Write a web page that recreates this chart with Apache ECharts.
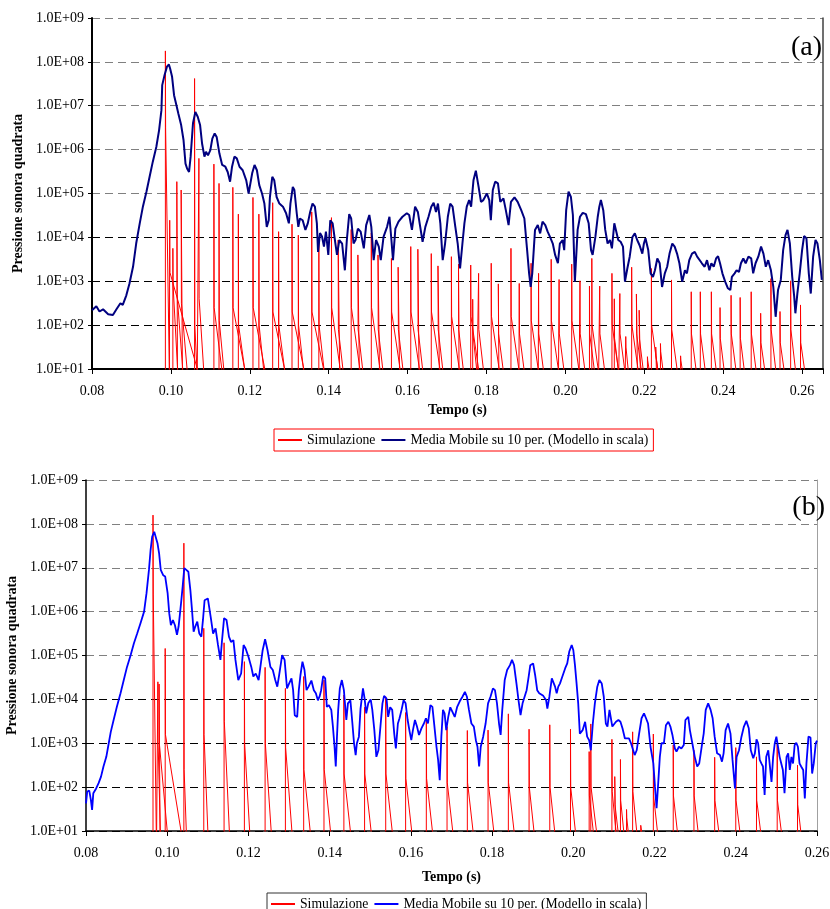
<!DOCTYPE html>
<html>
<head>
<meta charset="utf-8">
<script src="https://cdn.jsdelivr.net/npm/echarts@6/dist/echarts.min.js"></script>
<style>
html, body { margin: 0; padding: 0; background: #fff; }
#chart { width: 830px; height: 909px; }
</style>
</head>
<body>
<div id="chart"></div>
<script>
var nameRed = 'Simulazione';
var nameBlue = 'Media Mobile su 10 per. (Modello in scala)';
var panelLabels = ['(a)', '(b)'];

// moving average, [time s, log10 of squared pressure]
var blueTop = [
  [0.0800,2.34],[0.0811,2.43],[0.0819,2.31],[0.0828,2.36],[0.0841,2.25],[0.0853,2.23],[0.0862,2.36],[0.0872,2.50],
  [0.0878,2.46],[0.0887,2.68],[0.0895,2.95],[0.0904,3.33],[0.0912,3.86],[0.0921,4.32],[0.0929,4.70],[0.0938,5.04],
  [0.0946,5.38],[0.0954,5.72],[0.0963,6.06],[0.0970,6.44],[0.0976,6.90],[0.0978,7.47],[0.0984,7.70],[0.0990,7.89],
  [0.0995,7.94],[0.0998,7.85],[0.1003,7.66],[0.1008,7.24],[0.1014,7.01],[0.1019,6.82],[0.1026,6.56],[0.1032,6.22],
  [0.1037,5.68],[0.1041,5.57],[0.1046,5.49],[0.1050,5.84],[0.1056,6.60],[0.1062,6.86],[0.1068,6.75],[0.1074,6.56],
  [0.1079,6.14],[0.1085,5.84],[0.1089,5.95],[0.1094,5.87],[0.1100,5.99],[0.1105,6.25],[0.1111,6.37],[0.1116,6.29],
  [0.1123,5.91],[0.1130,5.65],[0.1138,5.61],[0.1144,5.49],[0.1150,5.27],[0.1155,5.61],[0.1161,5.84],[0.1167,5.80],
  [0.1174,5.61],[0.1182,5.53],[0.1191,5.30],[0.1197,5.00],[0.1201,5.04],[0.1206,5.46],[0.1212,5.65],[0.1218,5.53],
  [0.1224,5.19],[0.1231,5.00],[0.1237,4.77],[0.1243,4.24],[0.1248,4.39],[0.1251,4.92],[0.1257,5.38],[0.1262,5.30],
  [0.1268,4.92],[0.1275,4.77],[0.1284,4.70],[0.1292,4.55],[0.1299,4.32],[0.1303,4.77],[0.1309,5.15],[0.1313,5.08],
  [0.1319,4.55],[0.1323,4.24],[0.1327,4.43],[0.1334,4.39],[0.1341,4.17],[0.1347,4.32],[0.1353,4.58],[0.1359,4.77],
  [0.1365,4.70],[0.1370,4.32],[0.1373,3.67],[0.1378,4.10],[0.1383,4.02],[0.1388,3.79],[0.1393,4.13],[0.1399,3.60],
  [0.1404,4.39],[0.1410,4.32],[0.1417,3.86],[0.1421,3.60],[0.1427,3.94],[0.1434,3.86],[0.1441,3.25],[0.1446,3.94],
  [0.1452,4.53],[0.1457,4.43],[0.1463,3.86],[0.1468,3.94],[0.1474,4.20],[0.1481,4.13],[0.1489,3.75],[0.1495,4.28],
  [0.1503,4.51],[0.1508,4.24],[0.1514,3.48],[0.1520,3.94],[0.1527,3.79],[0.1532,3.48],[0.1539,4.01],[0.1548,4.24],
  [0.1554,4.47],[0.1559,3.94],[0.1563,3.48],[0.1569,4.20],[0.1577,4.36],[0.1587,4.47],[0.1598,4.55],[0.1604,4.51],
  [0.1611,4.17],[0.1619,4.70],[0.1626,4.58],[0.1632,4.24],[0.1638,3.90],[0.1645,4.24],[0.1653,4.47],[0.1660,4.70],
  [0.1666,4.79],[0.1672,4.58],[0.1677,4.77],[0.1683,4.32],[0.1689,3.48],[0.1695,3.86],[0.1702,4.47],[0.1708,4.77],
  [0.1714,4.70],[0.1721,4.24],[0.1727,3.86],[0.1733,3.29],[0.1739,3.86],[0.1744,4.32],[0.1750,4.70],[0.1756,4.85],
  [0.1761,4.70],[0.1767,5.30],[0.1773,5.52],[0.1780,5.15],[0.1786,4.81],[0.1792,4.85],[0.1801,5.00],[0.1807,4.85],
  [0.1811,4.39],[0.1816,5.08],[0.1822,5.27],[0.1829,5.23],[0.1835,4.81],[0.1843,4.89],[0.1849,4.62],[0.1856,4.28],
  [0.1862,4.81],[0.1871,4.91],[0.1879,4.81],[0.1888,4.62],[0.1896,4.43],[0.1903,3.71],[0.1908,3.18],[0.1912,2.87],
  [0.1916,3.18],[0.1923,4.17],[0.1930,4.28],[0.1936,4.09],[0.1942,4.36],[0.1949,4.28],[0.1955,4.13],[0.1961,4.01],
  [0.1968,3.86],[0.1974,3.60],[0.1981,3.41],[0.1986,3.86],[0.1993,3.94],[0.1997,3.71],[0.2002,4.62],[0.2008,5.04],
  [0.2014,4.92],[0.2019,4.51],[0.2024,2.99],[0.2031,4.17],[0.2037,4.47],[0.2044,4.56],[0.2052,4.53],[0.2059,4.32],
  [0.2065,3.71],[0.2069,3.60],[0.2076,4.01],[0.2082,4.47],[0.2086,4.70],[0.2090,4.85],[0.2096,4.62],[0.2101,4.17],
  [0.2107,3.86],[0.2113,3.94],[0.2118,3.75],[0.2124,4.32],[0.2129,4.36],[0.2134,3.94],[0.2140,3.90],[0.2146,3.79],
  [0.2151,2.99],[0.2157,3.29],[0.2163,3.56],[0.2170,4.01],[0.2176,4.09],[0.2182,3.94],[0.2188,3.82],[0.2195,3.63],
  [0.2199,3.86],[0.2203,3.98],[0.2210,3.71],[0.2216,3.18],[0.2222,3.10],[0.2227,3.25],[0.2233,3.52],[0.2239,3.41],
  [0.2245,2.87],[0.2252,3.18],[0.2258,3.33],[0.2264,3.63],[0.2271,3.86],[0.2277,3.79],[0.2283,3.63],[0.2289,3.41],
  [0.2296,2.99],[0.2303,3.25],[0.2308,3.18],[0.2314,3.48],[0.2321,3.63],[0.2328,3.67],[0.2334,3.56],[0.2339,3.60],
  [0.2346,3.41],[0.2353,3.33],[0.2359,3.48],[0.2365,3.25],[0.2370,3.41],[0.2376,3.33],[0.2382,3.52],[0.2387,3.57],
  [0.2392,3.41],[0.2398,3.18],[0.2405,2.99],[0.2412,2.84],[0.2418,2.80],[0.2422,3.10],[0.2429,3.18],[0.2434,3.25],
  [0.2440,3.21],[0.2445,3.41],[0.2451,3.52],[0.2457,3.41],[0.2464,3.56],[0.2471,3.52],[0.2476,3.18],[0.2482,3.41],
  [0.2489,3.56],[0.2496,3.79],[0.2502,3.63],[0.2508,3.33],[0.2514,3.48],[0.2521,3.25],[0.2527,2.87],[0.2533,2.19],
  [0.2539,2.80],[0.2546,3.03],[0.2552,3.71],[0.2558,4.05],[0.2563,4.17],[0.2569,3.86],[0.2575,3.10],[0.2580,2.65],
  [0.2583,2.27],[0.2588,2.72],[0.2594,3.18],[0.2600,3.71],[0.2605,4.03],[0.2611,3.98],[0.2617,3.18],[0.2622,2.72],
  [0.2628,3.56],[0.2634,3.94],[0.2639,3.86],[0.2645,3.48],[0.2650,3.03]
];

// simulation pulses: [start s, peak exp, exp just after peak, decay length s]
var redTop = [
  [0.0986,8.25,6.5,0.0010],[0.0997,4.39,3.2,0.0070],[0.1005,3.75,2.9,0.0012],[0.1015,5.27,2.7,0.0015],
  [0.1026,5.08,2.5,0.0015],[0.1060,7.62,2.0,0.0006],[0.1071,5.80,2.6,0.0012],[0.1109,5.67,2.4,0.0020],
  [0.1122,5.23,2.1,0.0012],[0.1157,5.14,2.4,0.0030],[0.1171,4.53,2.0,0.0016],[0.1208,4.91,2.4,0.0030],
  [0.1223,4.53,2.0,0.0012],[0.1258,4.79,2.3,0.0030],[0.1273,4.13,2.0,0.0015],[0.1307,4.30,2.3,0.0030],
  [0.1323,4.05,2.0,0.0013],[0.1357,4.58,2.3,0.0030],[0.1375,3.94,2.0,0.0013],[0.1407,4.45,2.4,0.0022],
  [0.1424,3.94,1.9,0.0012],[0.1457,4.18,2.4,0.0022],[0.1474,3.60,1.9,0.0012],[0.1508,4.10,2.4,0.0022],
  [0.1525,3.60,1.9,0.0012],[0.1559,3.52,2.3,0.0022],[0.1576,3.32,1.9,0.0012],[0.1608,3.79,2.3,0.0022],
  [0.1626,3.73,1.9,0.0012],[0.1660,3.63,2.3,0.0022],[0.1677,3.35,1.9,0.0012],[0.1711,3.56,2.2,0.0020],
  [0.1729,3.39,1.9,0.0012],[0.1760,3.37,2.2,0.0020],[0.1765,2.59,1.8,0.0010],[0.1780,3.18,1.9,0.0012],
  [0.1812,3.41,2.2,0.0020],[0.1830,2.94,1.8,0.0012],[0.1862,3.75,2.2,0.0020],[0.1883,2.95,1.8,0.0012],
  [0.1913,3.41,2.1,0.0018],[0.1932,3.18,1.8,0.0012],[0.1964,3.50,2.1,0.0018],[0.1984,3.04,1.8,0.0012],
  [0.2016,3.39,2.1,0.0018],[0.2037,3.01,1.8,0.0012],[0.2061,2.89,1.8,0.0012],[0.2067,3.52,2.0,0.0016],
  [0.2087,2.89,1.8,0.0012],[0.2118,3.18,2.0,0.0016],[0.2124,2.60,1.7,0.0010],[0.2138,2.72,1.8,0.0012],
  [0.2153,1.74,1.5,0.0006],[0.2168,3.32,2.0,0.0016],[0.2180,2.71,1.8,0.0012],[0.2187,2.34,1.7,0.0010],
  [0.2208,1.28,1.2,0.0004],[0.2218,3.29,2.0,0.0016],[0.2229,1.50,1.3,0.0005],[0.2241,1.58,1.4,0.0006],
  [0.2269,3.03,1.9,0.0014],[0.2292,1.30,1.2,0.0004],[0.2319,2.76,1.8,0.0012],[0.2342,2.76,1.8,0.0012],
  [0.2370,2.76,1.8,0.0012],[0.2392,2.40,1.7,0.0010],[0.2420,2.68,1.8,0.0012],[0.2443,2.63,1.7,0.0010],
  [0.2471,2.76,1.8,0.0012],[0.2495,2.27,1.6,0.0010],[0.2521,3.06,1.9,0.0012],[0.2544,2.31,1.6,0.0010],
  [0.2571,3.01,1.9,0.0012],[0.2596,2.46,1.6,0.0010]
];

var blueBottom = [
  [0.0800,1.63],[0.0803,1.90],[0.0808,1.92],[0.0812,1.71],[0.0815,1.48],[0.0818,1.86],[0.0825,1.97],[0.0831,2.09],
  [0.0837,2.24],[0.0843,2.47],[0.0850,2.69],[0.0856,3.00],[0.0861,3.26],[0.0868,3.53],[0.0876,3.83],[0.0885,4.14],
  [0.0893,4.44],[0.0901,4.74],[0.0910,5.01],[0.0918,5.28],[0.0926,5.50],[0.0934,5.73],[0.0943,6.00],[0.0949,6.42],
  [0.0955,6.95],[0.0959,7.40],[0.0963,7.71],[0.0968,7.82],[0.0972,7.82],[0.0976,7.56],[0.0980,7.33],[0.0984,6.95],
  [0.0990,6.83],[0.0995,6.80],[0.1001,6.42],[0.1005,5.96],[0.1009,5.69],[0.1014,5.81],[0.1019,5.69],[0.1024,5.47],
  [0.1028,5.66],[0.1034,6.19],[0.1038,6.57],[0.1042,6.99],[0.1047,6.95],[0.1052,6.91],[0.1057,6.49],[0.1061,6.04],
  [0.1065,5.54],[0.1069,5.66],[0.1074,5.77],[0.1079,5.50],[0.1084,5.43],[0.1088,5.81],[0.1092,6.26],[0.1100,6.30],
  [0.1107,5.88],[0.1113,5.50],[0.1119,5.62],[0.1125,5.24],[0.1131,4.90],[0.1135,5.35],[0.1140,5.85],[0.1146,5.81],
  [0.1152,5.43],[0.1157,5.31],[0.1163,5.35],[0.1168,4.90],[0.1175,4.44],[0.1182,4.59],[0.1188,5.24],[0.1193,5.16],
  [0.1200,4.97],[0.1207,4.74],[0.1212,4.52],[0.1218,4.59],[0.1225,4.44],[0.1229,4.40],[0.1235,5.12],[0.1241,5.37],
  [0.1247,5.12],[0.1254,4.74],[0.1260,4.67],[0.1266,4.44],[0.1271,4.29],[0.1275,4.52],[0.1283,5.01],[0.1289,4.90],
  [0.1295,4.25],[0.1300,4.36],[0.1306,4.48],[0.1310,4.21],[0.1314,3.64],[0.1320,3.60],[0.1324,4.21],[0.1328,4.55],
  [0.1333,4.86],[0.1338,4.67],[0.1343,4.21],[0.1348,4.29],[0.1355,4.43],[0.1361,4.21],[0.1366,4.14],[0.1371,3.98],
  [0.1375,4.06],[0.1379,4.21],[0.1384,4.53],[0.1389,4.48],[0.1393,3.83],[0.1398,3.87],[0.1404,3.76],[0.1408,3.38],
  [0.1412,2.92],[0.1415,2.47],[0.1418,3.15],[0.1421,3.76],[0.1425,4.25],[0.1430,4.44],[0.1435,4.21],[0.1441,3.53],
  [0.1445,3.91],[0.1451,3.98],[0.1456,3.45],[0.1460,3.00],[0.1464,2.73],[0.1467,3.00],[0.1472,3.15],[0.1476,3.79],
  [0.1482,4.25],[0.1486,4.02],[0.1490,3.68],[0.1495,3.91],[0.1501,4.00],[0.1505,3.76],[0.1510,3.30],[0.1515,2.69],
  [0.1520,2.84],[0.1525,3.38],[0.1530,3.91],[0.1534,4.08],[0.1540,4.02],[0.1544,3.60],[0.1549,3.82],[0.1554,3.76],
  [0.1559,3.22],[0.1563,2.88],[0.1568,3.45],[0.1572,3.57],[0.1577,3.76],[0.1582,3.98],[0.1587,3.91],[0.1592,3.53],
  [0.1597,3.26],[0.1601,3.07],[0.1605,3.30],[0.1610,3.53],[0.1615,3.38],[0.1620,3.19],[0.1626,3.34],[0.1632,3.45],
  [0.1637,3.57],[0.1642,3.45],[0.1648,3.87],[0.1653,3.83],[0.1658,3.38],[0.1663,2.92],[0.1667,2.62],[0.1671,2.16],
  [0.1675,3.15],[0.1679,3.76],[0.1683,3.68],[0.1687,3.30],[0.1692,3.60],[0.1697,3.82],[0.1702,3.72],[0.1708,3.60],
  [0.1714,3.83],[0.1720,3.95],[0.1727,4.06],[0.1733,4.17],[0.1738,4.06],[0.1743,3.76],[0.1749,3.45],[0.1755,3.38],
  [0.1760,3.07],[0.1764,2.92],[0.1768,2.47],[0.1772,2.92],[0.1778,3.15],[0.1784,3.45],[0.1790,3.91],[0.1796,4.06],
  [0.1802,4.25],[0.1807,4.21],[0.1812,3.91],[0.1817,3.45],[0.1821,3.19],[0.1825,3.76],[0.1831,4.44],[0.1837,4.67],
  [0.1844,4.78],[0.1849,4.90],[0.1854,4.78],[0.1860,4.36],[0.1865,3.98],[0.1870,3.64],[0.1875,3.91],[0.1880,4.06],
  [0.1885,4.21],[0.1890,4.52],[0.1894,4.78],[0.1901,4.82],[0.1906,4.55],[0.1911,4.21],[0.1916,4.14],[0.1926,4.08],
  [0.1933,3.98],[0.1936,3.79],[0.1941,4.06],[0.1947,4.48],[0.1951,4.52],[0.1955,4.29],[0.1959,4.14],[0.1963,4.29],
  [0.1967,4.36],[0.1973,4.52],[0.1980,4.71],[0.1985,4.82],[0.1990,5.09],[0.1996,5.24],[0.2000,5.12],[0.2004,4.78],
  [0.2008,4.36],[0.2012,3.91],[0.2016,3.22],[0.2023,3.30],[0.2029,3.49],[0.2034,3.15],[0.2039,3.07],[0.2043,2.84],
  [0.2048,3.45],[0.2053,3.91],[0.2059,4.29],[0.2064,4.44],[0.2070,4.36],[0.2075,4.06],[0.2080,3.45],[0.2084,3.38],
  [0.2089,3.76],[0.2092,3.74],[0.2096,3.38],[0.2100,3.38],[0.2105,3.49],[0.2111,3.53],[0.2116,3.49],[0.2121,3.34],
  [0.2127,3.11],[0.2131,3.07],[0.2137,3.11],[0.2142,3.00],[0.2146,2.88],[0.2151,2.73],[0.2156,2.84],[0.2162,3.22],
  [0.2168,3.57],[0.2174,3.68],[0.2179,3.57],[0.2184,3.45],[0.2190,2.92],[0.2197,2.54],[0.2201,2.01],[0.2205,1.52],
  [0.2209,2.09],[0.2213,2.69],[0.2217,3.00],[0.2223,3.00],[0.2228,3.41],[0.2234,3.49],[0.2239,3.38],[0.2244,3.19],
  [0.2250,2.88],[0.2254,2.81],[0.2260,2.92],[0.2266,2.88],[0.2272,2.96],[0.2276,3.53],[0.2283,3.60],[0.2287,3.30],
  [0.2293,3.00],[0.2299,2.69],[0.2305,2.47],[0.2310,2.54],[0.2316,2.92],[0.2321,3.22],[0.2326,3.76],[0.2332,3.91],
  [0.2338,3.76],[0.2343,3.57],[0.2348,3.15],[0.2354,2.77],[0.2361,2.73],[0.2366,2.58],[0.2370,2.77],[0.2375,3.30],
  [0.2381,3.45],[0.2387,3.22],[0.2392,2.62],[0.2398,1.97],[0.2402,2.69],[0.2408,2.84],[0.2414,3.15],[0.2420,3.38],
  [0.2426,3.51],[0.2432,3.34],[0.2437,2.84],[0.2443,2.66],[0.2447,2.77],[0.2451,3.09],[0.2455,3.00],[0.2459,2.62],
  [0.2463,2.54],[0.2467,2.47],[0.2471,1.82],[0.2475,2.69],[0.2480,2.84],[0.2484,2.81],[0.2488,2.12],[0.2492,2.69],
  [0.2496,3.00],[0.2500,3.15],[0.2504,2.92],[0.2508,2.69],[0.2512,2.54],[0.2516,2.39],[0.2520,1.86],[0.2525,2.69],
  [0.2529,2.77],[0.2533,2.39],[0.2537,2.69],[0.2541,2.54],[0.2545,2.96],[0.2549,3.01],[0.2553,2.92],[0.2557,2.54],
  [0.2561,2.47],[0.2566,2.39],[0.2570,1.74],[0.2574,2.54],[0.2579,3.15],[0.2584,3.13],[0.2588,2.31],[0.2592,2.54],
  [0.2597,3.00],[0.2600,3.06]
];

var redBottom = [
  [0.0965,8.20,6.4,0.0008],[0.0977,4.40,3.0,0.0006],[0.0980,4.35,3.0,0.0020],[0.0995,5.16,3.2,0.0039],
  [0.1041,7.56,2.4,0.0006],[0.1090,5.62,3.2,0.0010],[0.1140,5.29,3.5,0.0013],[0.1190,4.86,3.0,0.0013],
  [0.1241,4.73,3.0,0.0015],[0.1291,4.25,2.9,0.0016],[0.1336,4.52,2.4,0.0016],[0.1386,4.44,2.4,0.0016],
  [0.1435,4.10,2.3,0.0016],[0.1486,3.82,2.3,0.0016],[0.1538,4.06,2.3,0.0016],[0.1587,3.70,2.2,0.0015],
  [0.1638,3.57,2.2,0.0015],[0.1689,3.38,2.1,0.0014],[0.1739,3.29,2.1,0.0014],[0.1790,3.30,2.1,0.0014],
  [0.1840,3.67,2.1,0.0014],[0.1891,3.32,2.0,0.0012],[0.1942,3.42,2.0,0.0012],[0.1993,3.32,2.0,0.0012],
  [0.2039,2.81,1.8,0.0010],[0.2043,3.44,2.0,0.0014],[0.2095,3.09,1.9,0.0010],[0.2102,2.24,1.6,0.0008],
  [0.2116,2.63,1.7,0.0008],[0.2131,1.49,1.3,0.0004],[0.2146,3.26,1.9,0.0010],[0.2166,1.13,1.1,0.0002],
  [0.2197,3.21,1.8,0.0010],[0.2246,2.96,1.8,0.0010],[0.2297,2.84,1.8,0.0010],[0.2348,2.68,1.7,0.0010],
  [0.2400,2.90,1.7,0.0010],[0.2451,2.69,1.7,0.0010],[0.2502,2.98,1.7,0.0010],[0.2552,2.50,1.6,0.0008]
];

function toPoints(arr) {
  return arr.map(function (p) { return [p[0], Math.pow(10, p[1])]; });
}

// each pulse rises from below the axis, drops to its tail and decays back below the axis
function toPulses(arr) {
  var out = [];
  arr.forEach(function (s) {
    out.push([s[0], 1]);
    out.push([s[0], Math.pow(10, s[1])]);
    out.push([s[0] + 0.00006, Math.pow(10, s[2])]);
    out.push([s[0] + s[3], 10]);
    out.push([s[0] + s[3], 1]);
  });
  return out;
}

var serif = 'Liberation Serif';
var gridColors = ['#000', '#000', '#000', '#000', '#808080', '#808080', '#808080', '#808080', '#808080'];

function expLabel(v) {
  var p = Math.round(Math.log(v) / Math.LN10);
  return '1.0E+' + (p < 10 ? '0' : '') + p;
}
function timeLabel(v) {
  var k = v / 0.02;
  return Math.abs(k - Math.round(k)) < 1e-6 ? v.toFixed(2) : '';
}

function xAxisFor(idx, max, nameGap, lw) {
  return {
    gridIndex: idx, type: 'value', min: 0.08, max: max, interval: 0.02,
    name: 'Tempo (s)', nameLocation: 'middle', nameGap: nameGap,
    nameTextStyle: { fontFamily: serif, fontSize: 14, fontWeight: 'bold', color: '#000' },
    axisLine: { onZero: false, lineStyle: { color: '#000', width: lw } },
    axisTick: { show: true, length: 5, lineStyle: { color: '#000', width: 1 } },
    axisLabel: { formatter: timeLabel, margin: 15, fontFamily: serif, fontSize: 14, color: '#000', showMaxLabel: true },
    splitLine: { show: false }
  };
}
function yAxisFor(idx, nameGap, lw) {
  return {
    gridIndex: idx, type: 'log', logBase: 10, min: 10, max: 1e9,
    name: 'Pressione sonora quadrata', nameLocation: 'middle', nameGap: nameGap, nameRotate: 90,
    nameTextStyle: { fontFamily: serif, fontSize: 14, fontWeight: 'bold', color: '#000' },
    axisLine: { show: true, lineStyle: { color: '#000', width: lw } },
    axisTick: { show: true, length: 4, lineStyle: { color: '#000' } },
    axisLabel: { formatter: expLabel, margin: 8, fontFamily: serif, fontSize: 14, color: '#000' },
    splitLine: { show: true, lineStyle: { color: gridColors, width: 1, type: [8, 5] } }
  };
}
function borderAxis(idx, color, w) {
  return {
    gridIndex: idx, type: 'value', position: 'right', min: 0, max: 1,
    axisLine: { show: true, lineStyle: { color: color, width: w } },
    axisTick: { show: false }, axisLabel: { show: false }, splitLine: { show: false }
  };
}
function legendFor(top, left, border, blue) {
  return {
    top: top, left: left, orient: 'horizontal', selectedMode: false,
    icon: 'rect', itemWidth: 24, itemHeight: 2, itemGap: 6,
    padding: [4, 5, 4, 4], borderColor: border, borderWidth: 1,
    textStyle: { fontFamily: serif, fontSize: 13.7, color: '#000' },
    data: [
      { name: nameRed, itemStyle: { color: '#FF0000' } },
      { name: nameBlue, itemStyle: { color: blue } }
    ]
  };
}

var chart = echarts.init(document.getElementById('chart'), null, { renderer: 'canvas' });
var option = {
  backgroundColor: '#fff',
  animation: false,
  title: [
    { text: panelLabels[0], right: 8, top: 34, padding: 0, textStyle: { fontFamily: serif, fontSize: 28, fontWeight: 'normal', color: '#000' } },
    { text: panelLabels[1], right: 5, top: 494, padding: 0, textStyle: { fontFamily: serif, fontSize: 28, fontWeight: 'normal', color: '#000' } }
  ],
  legend: [
    legendFor(429, 274, '#FF0000', '#000080'),
    legendFor(893, 267, '#333', '#0000FF')
  ],
  grid: [
    { left: 92, right: 7, top: 18, bottom: 540, outerBoundsMode: 'none' },
    { left: 86, right: 13, top: 480, bottom: 78, outerBoundsMode: 'none' }
  ],
  xAxis: [
    xAxisFor(0, 0.2653, 34, 2),
    xAxisFor(1, 0.26, 39, 1.5)
  ],
  yAxis: [
    yAxisFor(0, 66, 2),
    yAxisFor(1, 65, 1.5),
    borderAxis(0, '#404040', 1.5),
    borderAxis(1, '#A0A0A0', 1)
  ],
  series: [
    { name: nameRed, type: 'line', xAxisIndex: 0, yAxisIndex: 0, data: toPulses(redTop),
      showSymbol: false, symbol: 'none', clip: true, lineStyle: { color: '#FF0000', width: 1 }, itemStyle: { color: '#FF0000' } },
    { name: nameBlue, type: 'line', xAxisIndex: 0, yAxisIndex: 0, data: toPoints(blueTop),
      showSymbol: false, symbol: 'none', clip: true, lineStyle: { color: '#000080', width: 2 }, itemStyle: { color: '#000080' } },
    { name: nameRed, type: 'line', xAxisIndex: 1, yAxisIndex: 1, data: toPulses(redBottom),
      showSymbol: false, symbol: 'none', clip: true, lineStyle: { color: '#FF0000', width: 1 }, itemStyle: { color: '#FF0000' } },
    { name: nameBlue, type: 'line', xAxisIndex: 1, yAxisIndex: 1, data: toPoints(blueBottom),
      showSymbol: false, symbol: 'none', clip: true, lineStyle: { color: '#0000FF', width: 1.8 }, itemStyle: { color: '#0000FF' } }
  ]
};
chart.setOption(option);
</script>
</body>
</html>
